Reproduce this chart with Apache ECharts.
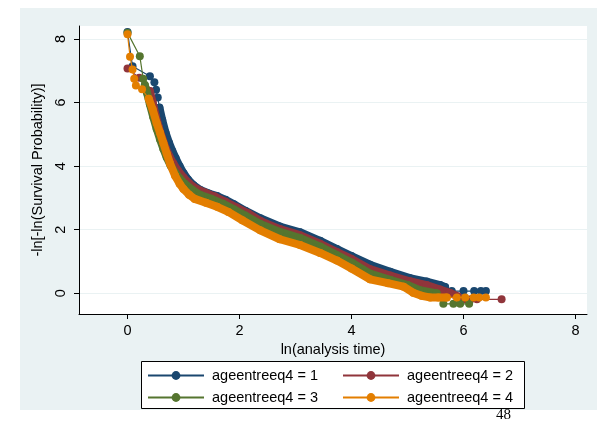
<!DOCTYPE html>
<html><head><meta charset="utf-8">
<script src="https://cdn.jsdelivr.net/npm/echarts@6/dist/echarts.min.js"></script>
<style>html,body{margin:0;padding:0;background:#fff}#c{width:607px;height:431px}</style>
</head><body><div id="c"></div>
<script>
const groupNames = ['ageentreeq4 = 1','ageentreeq4 = 2','ageentreeq4 = 3','ageentreeq4 = 4'];
const xTicks = [0, 2, 4, 6, 8];
const yTicks = [0, 2, 4, 6, 8];
const xTitle = 'ln(analysis time)';
const yTitle = '-ln[-ln(Survival Probability)]';
const pageNote = '48';

// [ln(t), -ln(-ln S)]
const g1 = [[0.00,8.22],[0.09,7.14],[0.40,6.83],[0.48,6.64],[0.51,6.40],[0.54,6.16],[0.57,5.84],
 [0.62,5.45],[0.68,5.05],[0.74,4.74],[0.80,4.48],[0.86,4.25],[0.93,4.00],[1.00,3.78],[1.08,3.58],[1.18,3.40],
 [1.30,3.25],[1.45,3.14],[1.60,3.06],[1.75,2.94],[1.90,2.80],[2.10,2.60],[2.37,2.36],[2.72,2.10],[3.08,1.92],
 [3.44,1.65],[3.74,1.39],[4.00,1.17],[4.33,0.90],[4.69,0.68],[5.04,0.48],[5.34,0.37],[5.58,0.26],[5.67,0.20],
 [5.79,0.07],[6.00,0.07],[6.19,0.07],[6.31,0.07],[6.40,0.07]];
const g2 = [[0.00,7.07],[0.21,6.78],[0.34,6.41],[0.40,6.36],[0.45,6.00],[0.50,5.62],[0.56,5.22],[0.62,4.88],
 [0.68,4.58],[0.75,4.30],[0.82,4.08],[0.90,3.86],[1.00,3.64],[1.10,3.46],[1.22,3.30],[1.38,3.17],[1.55,3.05],
 [1.75,2.88],[1.95,2.70],[2.15,2.52],[2.37,2.28],[2.72,2.02],[3.08,1.83],[3.44,1.56],[3.74,1.30],[4.00,1.08],
 [4.33,0.76],[4.69,0.56],[5.04,0.38],[5.34,0.26],[5.58,0.12],[5.75,0.02],[5.90,-0.10],
 [6.02,-0.19],[6.13,-0.19],[6.24,-0.19],[6.68,-0.19]];
const g3 = [[0.00,8.20],[0.22,7.46],[0.28,6.75],[0.31,6.55],[0.35,6.30],[0.40,5.95],[0.46,5.55],[0.52,5.18],
 [0.58,4.85],[0.64,4.55],[0.70,4.28],[0.77,4.02],[0.85,3.80],[0.93,3.62],[1.02,3.45],[1.15,3.26],[1.30,3.09],
 [1.50,2.97],[1.70,2.82],[1.90,2.64],[2.10,2.45],[2.37,2.18],[2.72,1.93],[3.08,1.74],[3.44,1.47],[3.74,1.20],
 [4.00,0.97],[4.33,0.62],[4.70,0.42],[5.00,0.26],[5.22,0.10],[5.52,0.00],
 [5.64,-0.33],[5.82,-0.33],[5.94,-0.33],[6.10,-0.33]];
const g4 = [[0.00,8.15],[0.045,7.44],[0.09,7.04],[0.12,6.75],[0.15,6.54],[0.26,6.42],[0.38,6.12],[0.45,5.78],
 [0.52,5.36],[0.58,5.05],[0.64,4.73],[0.70,4.40],[0.76,4.08],[0.85,3.70],[0.93,3.45],[1.00,3.28],[1.10,3.10],
 [1.20,2.97],[1.40,2.85],[1.60,2.72],[1.80,2.56],[2.05,2.30],[2.37,1.98],[2.72,1.70],[3.08,1.52],[3.44,1.27],
 [3.74,1.03],[4.00,0.78],[4.33,0.44],[4.65,0.32],[4.93,0.21],[5.10,0.02],[5.25,-0.08],[5.40,-0.13],[5.55,-0.13],
 [5.70,-0.13],[5.88,-0.13],[6.03,-0.13],[6.18,-0.13],[6.28,-0.13],[6.40,-0.13]];
// stretch of ln(t) where the markers overlap into a solid band
const denseRanges = [[0.57,5.67],[0.40,5.90],[0.31,5.52],[0.38,5.70]];

const groups = [g1, g2, g3, g4];
const colors = ['#1a476f','#90353b','#55752f','#e37e00'];
const font = "'Liberation Sans', Arial, Helvetica, sans-serif";
const fs = 14.5;

const series = [];
groups.forEach((g, i) => {
  const r = denseRanges[i];
  series.push({
    name: groupNames[i] + ' band', type: 'line', silent: true, z: 2 + 2 * i,
    data: g.filter(p => p[0] >= r[0] && p[0] <= r[1]),
    symbol: 'none', showSymbol: false,
    lineStyle: { width: 8, color: colors[i], cap: 'round', join: 'round' },
    animation: false
  });
  series.push({
    name: groupNames[i], type: 'line', z: 3 + 2 * i,
    data: g, symbol: 'circle', symbolSize: 8, showSymbol: true,
    itemStyle: { color: colors[i], borderWidth: 0 },
    lineStyle: { width: 1.2, color: colors[i] },
    animation: false
  });
});

const legendCommon = {
  orient: 'vertical', top: 367, padding: 0, itemWidth: 56, itemHeight: 11, itemGap: 5,
  selectedMode: false, z: 5,
  textStyle: { fontSize: fs, color: '#000', fontFamily: font, lineHeight: 17, padding: [0,0,0,3] }
};

const chart = echarts.init(document.getElementById('c'), null, { renderer: 'canvas' });
chart.setOption({
  backgroundColor: '#fff',
  animation: false,
  graphic: [
    { type: 'rect', z: -10, shape: { x: 20, y: 8, width: 577, height: 402 }, style: { fill: '#eaf2f3' } },
    { type: 'rect', z: 4, shape: { x: 141.5, y: 361.5, width: 383, height: 47 }, style: { fill: '#fff', stroke: '#000', lineWidth: 1 } },
    { type: 'text', z: 4, left: 496, top: 408, style: { text: pageNote, font: "15px 'Liberation Serif', 'Times New Roman', serif", fill: '#000' } }
  ],
  grid: { left: 79, top: 26, width: 508, height: 288, show: true, backgroundColor: '#fff', borderWidth: 0 },
  legend: [
    Object.assign({ left: 147, data: [groupNames[0], groupNames[2]] }, legendCommon),
    Object.assign({ left: 342, data: [groupNames[1], groupNames[3]] }, legendCommon)
  ],
  xAxis: {
    type: 'value', min: -0.866, max: 8.205,
    axisLine: { show: true, onZero: false, lineStyle: { color: '#000', width: 1 } },
    axisTick: { show: true, customValues: xTicks, length: 5, lineStyle: { color: '#000' } },
    axisLabel: { customValues: xTicks, color: '#000', fontSize: fs, fontFamily: font, margin: 9 },
    splitLine: { show: false },
    name: xTitle, nameLocation: 'middle', nameGap: 19,
    nameTextStyle: { color: '#000', fontSize: fs, fontFamily: font }
  },
  yAxis: {
    type: 'value', min: -0.651, max: 8.409,
    axisLine: { show: true, onZero: false, lineStyle: { color: '#000', width: 1 } },
    axisTick: { show: true, customValues: yTicks, length: 5, lineStyle: { color: '#000' } },
    axisLabel: { customValues: yTicks, color: '#000', fontSize: fs, fontFamily: font, rotate: 90, margin: 11 },
    splitLine: { show: true, lineStyle: { color: '#eaf2f3', width: 1 } },
    name: yTitle, nameLocation: 'middle', nameGap: 22,
    nameTextStyle: { color: '#000', fontSize: fs, fontFamily: font }
  },
  series: series
});
</script>
</body></html>
